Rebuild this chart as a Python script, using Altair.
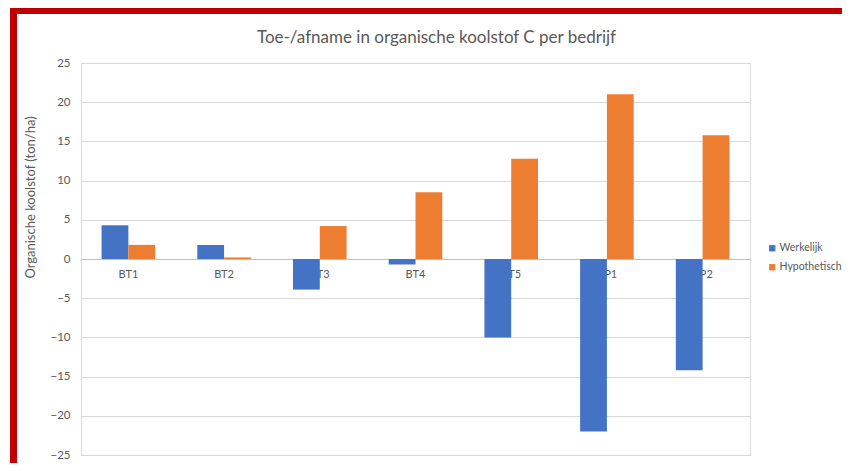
import altair as alt
import pandas as pd

categories = ["BT1", "BT2", "BT3", "BT4", "BT5", "VP1", "VP2"]
werkelijk = [4.3, 1.8, -3.9, -0.7, -10.0, -22.0, -14.2]
hypothetisch = [1.8, 0.2, 4.2, 8.5, 12.8, 21.0, 15.8]
series_names = ["Werkelijk", "Hypothetisch"]
series_colors = ["#4472C4", "#ED7D31"]
y_ticks = [-25, -20, -15, -10, -5, 0, 5, 10, 15, 20, 25]
title_text = "Toe-/afname  in organische koolstof C per bedrijf"

rows = []
for c, w, h in zip(categories, werkelijk, hypothetisch):
    rows.append({"bedrijf": c, "reeks": "Werkelijk", "waarde": w})
    rows.append({"bedrijf": c, "reeks": "Hypothetisch", "waarde": h})
df = pd.DataFrame(rows)

FONT = "Lato"
GREY = "#595959"
RED = "#c00000"

bars = alt.Chart(df).mark_bar().encode(
    x=alt.X(
        "bedrijf:N",
        sort=categories,
        scale=alt.Scale(paddingInner=0.44, paddingOuter=0.215),
        axis=alt.Axis(
            title=None, labelAngle=0, ticks=False, offset=-196,
            domainColor="#bfbfbf", labelColor=GREY, labelFontSize=11,
            labelFont=FONT, labelPadding=9, grid=False,
        ),
    ),
    xOffset=alt.XOffset("reeks:N", sort=series_names,
                        scale=alt.Scale(paddingInner=0, paddingOuter=0)),
    y=alt.Y(
        "waarde:Q",
        scale=alt.Scale(domain=[-25, 25], nice=False),
        axis=alt.Axis(
            values=y_ticks, title="Organische koolstof  (ton/ha)",
            ticks=False, labelPadding=11, labelColor=GREY, labelFontSize=11.5,
            labelFont=FONT, gridColor="#d9d9d9", domainColor="#d9d9d9",
            titleFont=FONT, titleFontSize=13, titleFontWeight="normal",
            titleColor=GREY, titleX=-44, titleY=134, titleAngle=-90,
        ),
    ),
    color=alt.Color(
        "reeks:N",
        sort=series_names,
        scale=alt.Scale(domain=series_names, range=series_colors),
        legend=alt.Legend(
            title=None, orient="none", legendX=686, legendY=180,
            symbolType="square", symbolSize=40, labelFontSize=10.5,
            labelOffset=2, labelFont=FONT, labelColor=GREY, rowPadding=8,
        ),
    ),
)

one = alt.Data(values=[{"t": title_text}])

title = alt.Chart(one).mark_text(
    font=FONT, fontSize=17, color=GREY, align="center", baseline="alphabetic"
).encode(text="t:N", x=alt.value(355.5), y=alt.value(-20))

left_edge = alt.Chart(one).mark_rect(color=RED).encode(
    x=alt.value(-71), x2=alt.value(-64), y=alt.value(-55), y2=alt.value(400)
)
top_edge = alt.Chart(one).mark_rect(color=RED).encode(
    x=alt.value(-71), x2=alt.value(761), y=alt.value(-55), y2=alt.value(-49)
)

chart = alt.layer(bars, title, left_edge, top_edge).properties(
    width=669,
    height=392,
    padding={"left": 73, "top": 55, "right": 92, "bottom": 8},
    autosize=alt.AutoSizeParams(type="none"),
).configure_view(stroke=None).configure(background="white")

chart.save("out.html", embed_options={"renderer": "svg", "actions": False})
